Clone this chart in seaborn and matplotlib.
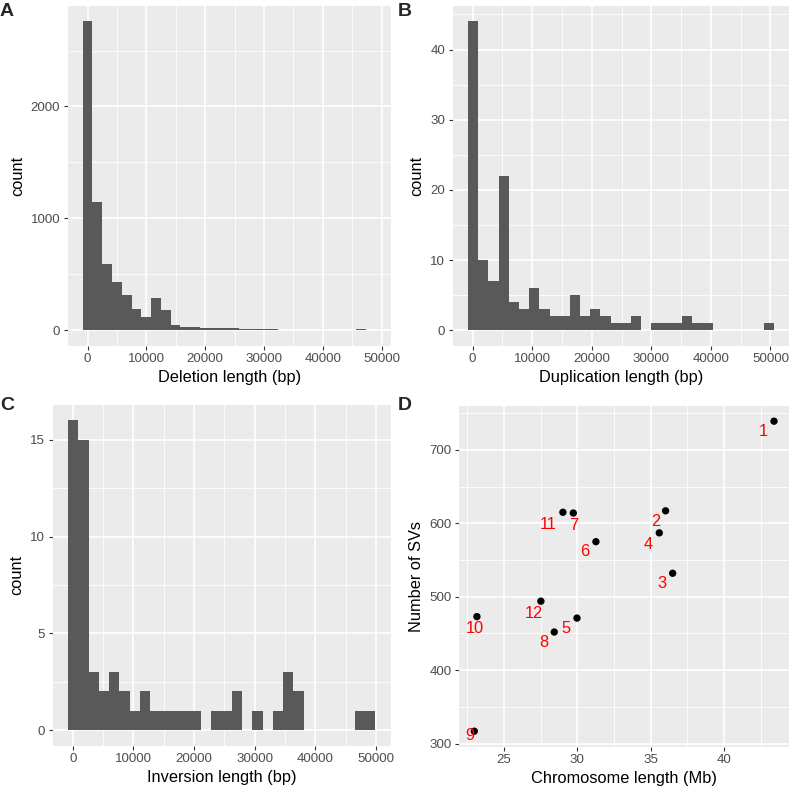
import numpy as np
import pandas as pd
import matplotlib
matplotlib.use("Agg")
import matplotlib.pyplot as plt
import seaborn as sns

# ---------------- data ----------------
# Panel A: deletion length histogram (30 bins)
del_start = -850
del_binwidth = 1663
del_counts = [2760, 1142, 590, 430, 312, 193, 119, 291, 184, 50,
              30, 25, 18, 16, 20, 18, 12, 10, 8, 7,
              6, 6, 6, 5, 5, 5, 5, 6, 7, 6]

# Panel B: duplication length histogram (30 bins)
dup_start = -780
dup_binwidth = 1711
dup_counts = [44, 10, 7, 22, 4, 3, 6, 3, 2, 2,
              5, 2, 3, 2, 1, 1, 2, 0, 1, 1,
              1, 2, 1, 1, 0, 0, 0, 0, 0, 1]

# Panel C: inversion length histogram (30 bins)
inv_start = -770
inv_binwidth = 1689
inv_counts = [16, 15, 3, 2, 3, 2, 1, 2, 1, 1,
              1, 1, 1, 0, 1, 1, 2, 0, 1, 0,
              1, 3, 2, 0, 0, 0, 0, 0, 1, 1]

# Panel D: chromosome length vs number of SVs
chrom_labels = ["1", "2", "3", "4", "5", "6", "7", "8", "9", "10", "11", "12"]
chrom_length_mb = [43.41, 36.02, 36.50, 35.59, 29.98, 31.27, 29.73, 28.43, 22.98, 23.16, 29.02, 27.52]
num_svs = [739, 617, 532, 587, 471, 575, 614, 452, 317, 473, 615, 494]

x_ticks_len = [0, 10000, 20000, 30000, 40000, 50000]

# label offsets in pixels (dx right, dy down)
label_offsets = {
    "1": (-10.7, 10.7), "2": (-10.3, 10.3), "3": (-10.7, 10.0), "4": (-10.7, 11.7),
    "5": (-10.7, 10.7), "6": (-10.7, 10.3), "7": (0.7, 12.0), "8": (-10.3, 10.7),
    "9": (-4.7, 4.7), "10": (-2.3, 12.3), "11": (-15.0, 12.7), "12": (-7.0, 12.0),
}

# ---------------- style ----------------
sns.set_theme(style="darkgrid")
plt.rcParams["font.family"] = ["Liberation Sans", "DejaVu Sans"]

BG = "#EBEBEB"
BAR = "#595959"
TICKLAB = "#4D4D4D"
TICK = "#333333"

fig = plt.figure(figsize=(7.91, 7.88), dpi=100)
W, H = 791, 788


def ax_from_px(left, top, right, bottom):
    return fig.add_axes([left / W, 1 - bottom / H, (right - left) / W, (bottom - top) / H])


def style_axes(ax, xmaj, ymaj, xlim, ylim):
    ax.set_facecolor(BG)
    ax.set_xlim(*xlim)
    ax.set_ylim(*ylim)
    ax.grid(False)
    xmin_ = [(a + b) / 2 for a, b in zip(xmaj[:-1], xmaj[1:])]
    ymin_ = [(a + b) / 2 for a, b in zip(ymaj[:-1], ymaj[1:])]
    dx = xmaj[1] - xmaj[0]
    dy = ymaj[1] - ymaj[0]
    xmin_ = [xmaj[0] - dx / 2] + xmin_ + [xmaj[-1] + dx / 2]
    ymin_ = [ymaj[0] - dy / 2] + ymin_ + [ymaj[-1] + dy / 2]
    for v in xmin_:
        if xlim[0] < v < xlim[1]:
            ax.axvline(v, color="white", lw=0.6, zorder=0.5)
    for v in ymin_:
        if ylim[0] < v < ylim[1]:
            ax.axhline(v, color="white", lw=0.6, zorder=0.5)
    for v in xmaj:
        ax.axvline(v, color="white", lw=1.2, zorder=0.6)
    for v in ymaj:
        ax.axhline(v, color="white", lw=1.2, zorder=0.6)
    ax.set_xticks(xmaj)
    ax.set_yticks(ymaj)
    ax.tick_params(axis="both", which="major", length=3, width=0.8, color=TICK,
                   labelcolor=TICKLAB, labelsize=9.6, pad=2.5,
                   bottom=True, left=True)
    for s in ax.spines.values():
        s.set_visible(False)


def hist_panel(ax, start, bw, counts, xlabel, yticks):
    n = len(counts)
    edges = start + bw * np.arange(n + 1)
    centers = (edges[:-1] + edges[1:]) / 2
    df = pd.DataFrame({"x": centers, "w": np.asarray(counts, dtype=float)})
    sns.histplot(data=df, x="x", weights="w", binwidth=bw,
                 binrange=(float(edges[0]), float(edges[-1])), ax=ax,
                 color=BAR, alpha=1, edgecolor=None, linewidth=0, zorder=2)
    rng = edges[-1] - edges[0]
    xlim = (edges[0] - 0.05 * rng, edges[-1] + 0.05 * rng)
    ymax = max(counts)
    ylim = (-0.05 * ymax, 1.05 * ymax)
    style_axes(ax, x_ticks_len, yticks, xlim, ylim)
    ax.set_xlabel(xlabel, fontsize=11.8, color="black", labelpad=3)
    ax.set_ylabel("count", fontsize=11.8, color="black", labelpad=4)
    ax.set_xticklabels([str(t) for t in x_ticks_len])


axA = ax_from_px(68, 6, 390.7, 345.7)
hist_panel(axA, del_start, del_binwidth, del_counts, "Deletion length (bp)", [0, 1000, 2000])

axB = ax_from_px(452.7, 6, 789, 345.7)
hist_panel(axB, dup_start, dup_binwidth, dup_counts, "Duplication length (bp)", [0, 10, 20, 30, 40])

axC = ax_from_px(52.7, 405, 390.7, 745.7)
hist_panel(axC, inv_start, inv_binwidth, inv_counts, "Inversion length (bp)", [0, 5, 10, 15])

axD = ax_from_px(459.3, 405.7, 789, 746.7)
dfD = pd.DataFrame({"len": chrom_length_mb, "n": num_svs, "lab": chrom_labels})
sns.scatterplot(data=dfD, x="len", y="n", ax=axD, color="black", s=28,
                edgecolor="none", linewidth=0, zorder=3)
xr = max(chrom_length_mb) - min(chrom_length_mb)
yr = max(num_svs) - min(num_svs)
style_axes(axD, [25, 30, 35, 40], [300, 400, 500, 600, 700],
           (min(chrom_length_mb) - 0.05 * xr, max(chrom_length_mb) + 0.05 * xr),
           (min(num_svs) - 0.05 * yr, max(num_svs) + 0.05 * yr))
for lab, x, y in zip(chrom_labels, chrom_length_mb, num_svs):
    dxp, dyp = label_offsets[lab]
    axD.annotate(lab, (x, y), xytext=(dxp * 0.72, -dyp * 0.72), textcoords="offset points",
                 ha="center", va="center", color="#FF0000", fontsize=11.8, zorder=4)
axD.set_xlabel("Chromosome length (Mb)", fontsize=11.8, color="black", labelpad=3)
axD.set_ylabel("Number of SVs", fontsize=11.8, color="black", labelpad=4)

# panel tags
for tag, (px, py) in {"A": (0, 3), "B": (398, 3), "C": (0, 397), "D": (398, 397)}.items():
    fig.text(px / W, 1 - py / H, tag, fontsize=14, fontweight="bold", ha="left", va="top")

fig.savefig("out.png", dpi=100)
